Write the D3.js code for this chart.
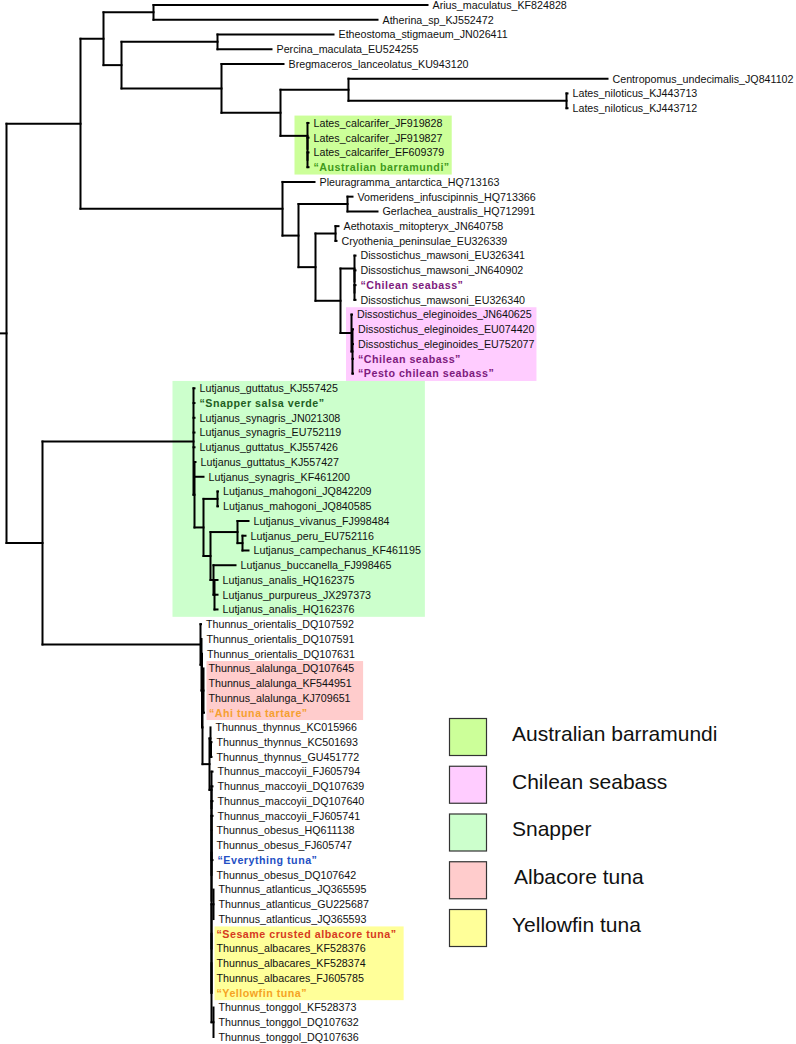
<!DOCTYPE html>
<html><head><meta charset="utf-8">
<script src="https://cdn.jsdelivr.net/npm/d3@7"></script>
<style>body{margin:0;background:#fff}svg{display:block}</style>
</head><body>
<script>
// ---------- DATA ----------
// Phylogeny (Newick), branch lengths in 10^-3 units
const treeNewick =
 "(" +
  "(" +
   "(" +
    "(Arius_maculatus_KF824828:274,Atherina_sp_KJ552472:224):50," +
    "(" +
     "(Etheostoma_stigmaeum_JN026411:116,Percina_maculata_EU524255:54):96," +
     "(Bregmaceros_lanceolatus_KU943120:62," +
      "(" +
       "(Centropomus_undecimalis_JQ841102:259,(Lates_niloticus_KJ443713:1,Lates_niloticus_KJ443712:1):218):68," +
       "(Lates_calcarifer_JF919828:1,(Lates_calcarifer_JF919827:1,(Lates_calcarifer_EF609379:1,'Australian barramundi':1):0):0):27" +
      "):59" +
     "):100" +
    "):18" +
   "):23," +
   "(Pleuragramma_antarctica_HQ713163:32," +
    "(" +
     "(Vomeridens_infuscipinnis_HQ713366:5,Gerlachea_australis_HQ712991:30):49," +
     "(" +
      "(Aethotaxis_mitopteryx_JN640758:3,Cryothenia_peninsulae_EU326339:1):20," +
      "(" +
       "(Dissostichus_mawsoni_EU326341:1,(Dissostichus_mawsoni_JN640902:1,('Chilean seabass':1,Dissostichus_mawsoni_EU326340:1):0):0):14," +
       "(Dissostichus_eleginoides_JN640625:0.5,(Dissostichus_eleginoides_EU074420:0.5,Dissostichus_eleginoides_EU752077:0.5,'Chilean seabass':0.5,'Pesto chilean seabass':0.5):1):11" +
      "):25" +
     "):17" +
    "):16" +
   "):202" +
  "):74," +
  "(" +
   "(Lutjanus_guttatus_KJ557425:1,'Snapper salsa verde':1,Lutjanus_synagris_JN021308:1,Lutjanus_synagris_EU752119:1,Lutjanus_guttatus_KJ557426:1," +
    "(Lutjanus_guttatus_KJ557427:1,Lutjanus_synagris_KF461200:9," +
     "(" +
      "(Lutjanus_mahogoni_JQ842209:0.5,Lutjanus_mahogoni_JQ840585:0.5):14," +
      "(" +
       "(Lutjanus_vivanus_FJ998484:11,(Lutjanus_peru_EU752116:3,Lutjanus_campechanus_KF461195:6):5):27," +
       "(Lutjanus_buccanella_FJ998465:22,(Lutjanus_analis_HQ162375:3,Lutjanus_purpureus_JX297373:3,Lutjanus_analis_HQ162376:3):1):3" +
      "):7" +
     "):9" +
    "):1" +
   "):151," +
   "(Thunnus_orientalis_DQ107592:0.5," +
    "(Thunnus_orientalis_DQ107591:0," +
     "(Thunnus_orientalis_DQ107631:0," +
      "(" +
       "(Thunnus_alalunga_DQ107645:0,Thunnus_alalunga_KF544951:0,Thunnus_alalunga_KJ709651:0,'Ahi tuna tartare':0.5):1," +
       "(" +
        "(Thunnus_thynnus_KC015966:0,(Thunnus_thynnus_KC501693:0.5,Thunnus_thynnus_GU451772:0.5):0.5):1," +
        "(Thunnus_maccoyii_FJ605794:1,(Thunnus_maccoyii_DQ107639:1,(Thunnus_maccoyii_DQ107640:1,(Thunnus_maccoyii_FJ605741:1," +
         "(" +
          "(Thunnus_obesus_HQ611138:0,Thunnus_obesus_FJ605747:0,'Everything tuna':1,Thunnus_obesus_DQ107642:0):0," +
          "(" +
           "(Thunnus_atlanticus_JQ365595:0,Thunnus_atlanticus_GU225687:0,Thunnus_atlanticus_JQ365593:0):2," +
           "(" +
            "('Sesame crusted albacore tuna':0,Thunnus_albacares_KF528376:0,Thunnus_albacares_KF528374:0,Thunnus_albacares_FJ605785:0,'Yellowfin tuna':0):0," +
            "(Thunnus_tonggol_KF528373:0,Thunnus_tonggol_DQ107632:0,Thunnus_tonggol_DQ107636:0):2" +
           "):0" +
          "):0" +
         "):0" +
        "):0):0):0):2" +
       "):7" +
      "):0.5" +
     "):0.5" +
    "):1" +
   "):158" +
  "):36" +
 "):6;";

// Restaurant sample leaves and their label colours
const sampleLabels = ["Australian barramundi", "Chilean seabass", "Pesto chilean seabass",
  "Snapper salsa verde", "Ahi tuna tartare", "Everything tuna",
  "Sesame crusted albacore tuna", "Yellowfin tuna"];
const sampleColors = ["#3f9a1c", "#7d1a7d", "#7d1a7d",
  "#1f5e1f", "#f5a030", "#2350c4",
  "#d63a20", "#f5a323"];

// Highlighted groups (legend categories)
const groupNames = ["Australian barramundi", "Chilean seabass", "Snapper", "Albacore tuna", "Yellowfin tuna"];
const groupColors = ["#ccff99", "#ffccff", "#ccffcc", "#ffcccc", "#ffff99"];
const groupFirstLeaf = ["Lates_calcarifer_JF919828", "Dissostichus_eleginoides_JN640625",
  "Lutjanus_guttatus_KJ557425", "Thunnus_alalunga_DQ107645", "Sesame crusted albacore tuna"];
const groupLastLeaf = ["Australian barramundi", "Pesto chilean seabass",
  "Lutjanus_analis_HQ162376", "Ahi tuna tartare", "Yellowfin tuna"];

// ---------- PARSE ----------
function parseNewick(s) {
  let i = 0;
  function node() {
    const n = {};
    if (s[i] === "(") {
      i++; n.children = [node()];
      while (s[i] === ",") { i++; n.children.push(node()); }
      i++;
    }
    let name = "";
    if (s[i] === "'") { i++; while (s[i] !== "'") name += s[i++]; i++; }
    else { while (i < s.length && !",():;".includes(s[i])) name += s[i++]; }
    n.name = name;
    n.length = 0;
    if (s[i] === ":") { i++; let t = ""; while (i < s.length && !",();".includes(s[i])) t += s[i++]; n.length = +t; }
    return n;
  }
  return node();
}

const W = 796, H = 1044;
const root = d3.hierarchy(parseNewick(treeNewick));
root.eachBefore(d => { d.dist = (d.parent ? d.parent.dist : 0) + d.data.length; });
const leaves = root.leaves();
const maxDist = d3.max(leaves, d => d.dist);

const x = d3.scaleLinear().domain([0, maxDist]).range([0.5, maxDist + 0.5]);
const y = d3.scalePoint().domain(d3.range(leaves.length)).range([5, 1037]);
leaves.forEach((d, i) => { d.row = i; d.py = y(i); });
root.eachAfter(d => { if (d.children) d.py = (d.children[0].py + d.children[d.children.length - 1].py) / 2; });

const svg = d3.select("body").append("svg").attr("width", W).attr("height", H);
const gBox = svg.append("g");
const gLines = svg.append("g").attr("stroke", "#000").attr("stroke-width", 2).attr("fill", "none").attr("stroke-linecap", "square");
const gText = svg.append("g").attr("font-family", "'Liberation Sans', Arial, Helvetica, sans-serif").attr("font-size", 10.7);

// branches
root.descendants().forEach(d => {
  const px = d.parent ? x(d.parent.dist) : 0;
  if (x(d.dist) - px > 0.01)
    gLines.append("line").attr("x1", px).attr("x2", x(d.dist)).attr("y1", d.py).attr("y2", d.py);
  if (d.children) {
    gLines.append("line").attr("x1", x(d.dist)).attr("x2", x(d.dist))
      .attr("y1", d.children[0].py).attr("y2", d.children[d.children.length - 1].py);
  }
});

// labels
const labelOffset = 5;
leaves.forEach(d => {
  const si = sampleLabels.indexOf(d.data.name);
  const t = gText.append("text").attr("x", x(d.dist) + labelOffset).attr("y", d.py).attr("dy", "0.36em");
  if (si >= 0) {
    t.text("\u201C" + d.data.name + "\u201D").attr("font-weight", "bold").attr("fill", sampleColors[si]).attr("letter-spacing", 0.5);
  } else {
    t.text(d.data.name).attr("fill", "#111");
  }
  d.textNode = t.node();
});

// highlight boxes
const padL = [19, 11, 27, 2, 2], padR = [2, 2, 4, 9, 7];
const half = (y(1) - y(0)) / 2;
groupNames.forEach((g, k) => {
  const i0 = leaves.findIndex(d => d.data.name === groupFirstLeaf[k]);
  const i1 = leaves.findIndex(d => d.data.name === groupLastLeaf[k]);
  const sub = leaves.slice(i0, i1 + 1);
  const left = d3.min(sub, d => +d.textNode.getAttribute("x")) - padL[k];
  const right = d3.max(sub, d => +d.textNode.getAttribute("x") + d.textNode.getComputedTextLength()) + padR[k];
  gBox.append("rect").attr("x", left).attr("y", leaves[i0].py - half)
    .attr("width", right - left).attr("height", leaves[i1].py - leaves[i0].py + 2 * half)
    .attr("fill", groupColors[k]);
});

// legend
const lg = svg.append("g").attr("transform", "translate(449,718)");
const ly = d3.scalePoint().domain(groupNames).range([0, 191]);
groupNames.forEach((g, k) => {
  lg.append("rect").attr("x", 0.5).attr("y", ly(g) + 0.5).attr("width", 37).attr("height", 37)
    .attr("fill", groupColors[k]).attr("stroke", "#333").attr("stroke-width", 1.2);
  lg.append("text").attr("x", g === "Albacore tuna" ? 65 : 63).attr("y", ly(g) + 15.5).attr("dy", "0.35em")
    .attr("font-family", "'Liberation Sans', Arial, Helvetica, sans-serif").attr("font-size", 21)
    .attr("fill", "#111").text(g);
});
</script>
</body></html>
